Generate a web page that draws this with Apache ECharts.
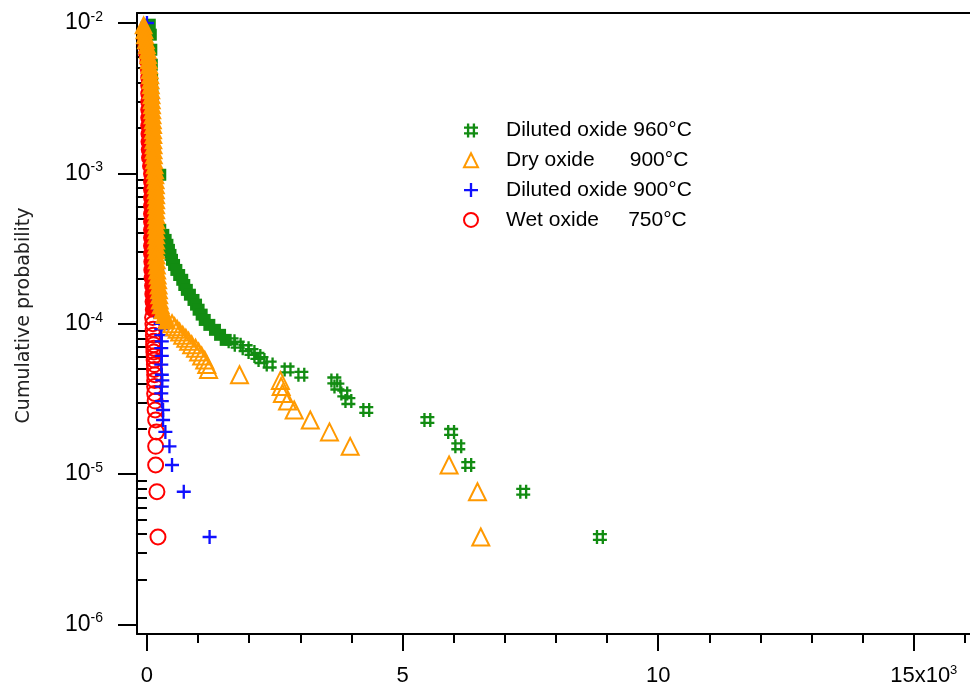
<!DOCTYPE html>
<html>
<head>
<meta charset="utf-8">
<script src="https://cdn.jsdelivr.net/npm/echarts@6/dist/echarts.min.js"></script>
<style>
html, body { margin: 0; padding: 0; background: #fff; }
#chart { width: 970px; height: 685px; }
</style>
</head>
<body>
<div id="chart"></div>
<script>
// Legend labels (spacing keeps the temperatures lined up)
const seriesNames = [
  'Diluted oxide 960°C',
  'Dry oxide      900°C',
  'Diluted oxide 900°C',
  'Wet oxide     750°C'
];

// Points are [value, cumulative probability].
// "Tail" = isolated extreme points, "Bulk" = the dense part near zero.
const diluted960Tail = [
  [8860, 3.82e-6], [7360, 7.64e-6], [6285, 1.15e-5], [6090, 1.53e-5], [5950, 1.91e-5],
  [5485, 2.29e-5], [4290, 2.67e-5], [3940, 3.06e-5], [3860, 3.44e-5], [3725, 3.82e-5],
  [3665, 4.2e-5], [3020, 4.58e-5], [2750, 4.97e-5], [2400, 5.35e-5], [2240, 5.73e-5],
  [2160, 6.11e-5], [2045, 6.49e-5], [1930, 6.88e-5], [1775, 7.26e-5], [1655, 7.64e-5]
];
const diluted960Bulk = [
  [55, 9.74e-3], [75, 8.36e-3], [85, 6.64e-3], [95, 5.28e-3], [100, 4.2e-3],
  [105, 3.33e-3], [110, 2.65e-3], [115, 2.11e-3], [120, 1.67e-3], [130, 1.33e-3],
  [135, 1.14e-3], [260, 9.79e-4], [140, 8.4e-4], [145, 6.67e-4], [150, 5.3e-4],
  [200, 4.55e-4], [260, 4.21e-4], [320, 3.9e-4], [365, 3.61e-4], [400, 3.35e-4],
  [430, 3.1e-4], [460, 2.87e-4], [490, 2.66e-4], [530, 2.46e-4], [575, 2.28e-4],
  [630, 2.11e-4], [690, 1.96e-4], [730, 1.81e-4], [780, 1.68e-4], [840, 1.56e-4],
  [910, 1.44e-4], [960, 1.34e-4], [1010, 1.24e-4], [1070, 1.15e-4], [1130, 1.06e-4],
  [1220, 9.83e-5], [1330, 9.11e-5], [1430, 8.44e-5], [1540, 7.81e-5]
];

const dry900Tail = [
  [6530, 3.82e-6], [6465, 7.64e-6], [5910, 1.15e-5], [3975, 1.53e-5], [3570, 1.91e-5],
  [3195, 2.29e-5], [2880, 2.67e-5], [2750, 3.06e-5], [2650, 3.44e-5], [2625, 3.82e-5],
  [2610, 4.2e-5], [1810, 4.58e-5], [1205, 4.97e-5], [1170, 5.35e-5], [1130, 5.73e-5],
  [1070, 6.11e-5], [1010, 6.49e-5], [950, 6.88e-5], [875, 7.26e-5], [815, 7.64e-5],
  [760, 8.02e-5], [700, 8.4e-5], [640, 8.8e-5], [590, 9.2e-5], [540, 9.55e-5], [490, 1.0e-4]
];
const dry900Bulk = [
  [-65, 9.74e-3], [-50, 9.02e-3], [-40, 8.36e-3], [-20, 7.74e-3], [0, 7.17e-3],
  [15, 6.64e-3], [25, 6.15e-3], [35, 5.7e-3], [45, 5.28e-3], [55, 4.89e-3],
  [65, 4.53e-3], [70, 4.2e-3], [75, 3.89e-3], [85, 3.6e-3], [90, 3.33e-3],
  [95, 3.09e-3], [100, 2.86e-3], [105, 2.65e-3], [110, 2.45e-3], [115, 2.27e-3],
  [120, 2.11e-3], [120, 1.95e-3], [125, 1.81e-3], [125, 1.67e-3], [130, 1.55e-3],
  [130, 1.435e-3], [135, 1.33e-3], [140, 1.23e-3], [150, 1.14e-3], [160, 1.057e-3],
  [165, 9.79e-4], [170, 9.06e-4], [175, 8.4e-4], [175, 7.78e-4], [180, 7.21e-4],
  [180, 6.67e-4], [180, 6.18e-4], [180, 5.73e-4], [180, 5.3e-4], [180, 4.91e-4],
  [180, 4.55e-4], [180, 4.21e-4], [180, 3.9e-4], [180, 3.61e-4], [180, 3.35e-4],
  [180, 3.1e-4], [185, 2.87e-4], [190, 2.66e-4], [195, 2.46e-4], [200, 2.28e-4],
  [210, 2.11e-4], [220, 1.96e-4], [228, 1.81e-4], [235, 1.68e-4], [240, 1.56e-4],
  [250, 1.44e-4], [270, 1.34e-4], [300, 1.24e-4], [340, 1.15e-4], [390, 1.06e-4]
];

const diluted900Points = [
  [0, 1.0e-2], [35, 5.7e-3], [95, 3.09e-3], [130, 1.435e-3], [180, 6.67e-4],
  [180, 3.61e-4], [200, 2.28e-4], [230, 1.44e-4], [250, 1.24e-4], [260, 1.1e-4],
  [270, 1.0e-4], [280, 9.2e-5], [280, 8.4e-5], [290, 7.64e-5], [280, 6.88e-5],
  [290, 6.11e-5], [280, 5.35e-5], [290, 4.58e-5], [300, 4.2e-5], [290, 3.82e-5],
  [280, 3.44e-5], [290, 3.06e-5], [315, 2.67e-5], [315, 2.29e-5], [360, 1.91e-5],
  [440, 1.53e-5], [490, 1.15e-5], [720, 7.64e-6], [1225, 3.82e-6]
];

const wet750Tail = [
  [110, 1.1e-4], [115, 1.0e-4], [120, 9.2e-5], [125, 8.4e-5], [130, 7.64e-5],
  [130, 7.26e-5], [135, 6.88e-5], [135, 6.49e-5], [140, 6.11e-5], [140, 5.73e-5],
  [145, 5.35e-5], [145, 4.97e-5], [150, 4.58e-5], [150, 4.2e-5], [150, 3.82e-5],
  [150, 3.44e-5], [160, 3.06e-5], [160, 2.67e-5], [170, 2.29e-5], [185, 1.91e-5],
  [170, 1.53e-5], [170, 1.15e-5], [195, 7.64e-6], [215, 3.82e-6]
];
const wet750Bulk = [
  [-50, 7.98e-3], [-40, 7.06e-3], [-25, 6.25e-3], [0, 5.53e-3], [10, 4.89e-3],
  [15, 4.33e-3], [15, 3.83e-3], [15, 3.39e-3], [15, 2.99e-3], [15, 2.65e-3],
  [15, 2.34e-3], [15, 2.07e-3], [20, 1.83e-3], [20, 1.62e-3], [25, 1.435e-3],
  [30, 1.27e-3], [50, 1.12e-3], [70, 9.94e-4], [70, 8.79e-4], [70, 7.78e-4],
  [70, 6.88e-4], [70, 6.09e-4], [70, 5.38e-4], [70, 4.76e-4], [70, 4.21e-4],
  [70, 3.73e-4], [70, 3.3e-4], [70, 2.92e-4], [75, 2.58e-4], [75, 2.28e-4],
  [80, 2.02e-4], [90, 1.79e-4], [95, 1.58e-4], [100, 1.4e-4], [105, 1.24e-4]
];

// Axis ticks
const xMajorTicks = [0, 5000, 10000, 15000];
const xMinorTicks = [1000, 2000, 3000, 4000, 6000, 7000, 8000, 9000,
                     11000, 12000, 13000, 14000, 16000];
const yDecadeExponents = [-6, -5, -4, -3, -2];

const X_MIN = -195, X_MAX = 16100;
const P_MIN = 8.65e-7, P_MAX = 1.165e-2;

const GREEN = '#128c12', ORANGE = '#ff9900', BLUE = '#1010ff', RED = '#ff0000';
const FONT = 'Liberation Sans, Arial, sans-serif';

const Y_MIN = Math.log10(P_MIN), Y_MAX = Math.log10(P_MAX);

// probability is plotted on a log10 scale
const toLog = pts => pts.map(([x, p]) => [x, Math.log10(p)]);

const yMinorTicks = [];
for (let n = -7; n <= -2; n++) {
  for (let k = 2; k <= 9; k++) {
    const v = n + Math.log10(k);
    if (v > Y_MIN + 0.03 && v < Y_MAX) yMinorTicks.push(v);
  }
}

const HASH = 'path://M2.5,0h2v12h-2zM7.5,0h2v12h-2zM0,2.5h12v2h-12zM0,7.5h12v2h-12z';
const PLUS = 'path://M5,0h2v12h-2zM0,5h12v2h-12z';

const solid = c => ({ color: c, opacity: 1 });
const hollow = c => ({ color: 'rgba(0,0,0,0)', borderColor: c, borderWidth: 2, opacity: 1 });

const axisLineStyle = { color: '#000', width: 2 };
const lastMajor = xMajorTicks[xMajorTicks.length - 1];

const chart = echarts.init(document.getElementById('chart'), null, { renderer: 'canvas' });
chart.setOption({
  animation: false,
  backgroundColor: '#fff',
  grid: { left: 137, right: 0, top: 13, bottom: 51, outerBoundsMode: 'none' },
  legend: {
    data: seriesNames,
    orient: 'vertical',
    left: 458,
    top: 115,
    padding: 5,
    itemWidth: 14,
    itemHeight: 14,
    itemGap: 8.8,
    selectedMode: false,
    formatter: name => '{g| }{n|' + name + '}',
    textStyle: {
      rich: {
        g: { width: 23 },
        n: { fontSize: 21, fontFamily: FONT, color: '#000', lineHeight: 22 }
      }
    }
  },
  xAxis: [
    {
      type: 'value', min: X_MIN, max: X_MAX, position: 'bottom',
      splitLine: { show: false },
      axisLine: { show: true, onZero: false, lineStyle: axisLineStyle },
      axisTick: { show: true, customValues: xMajorTicks, length: 17, lineStyle: axisLineStyle },
      axisLabel: {
        customValues: xMajorTicks,
        margin: 30,
        formatter: v => {
          const s = String(v / 1000);
          return v === lastMajor
            ? '{sp| }{b|' + s + 'x10}{s|3}'
            : '{b|' + s + '}';
        },
        rich: {
          sp: { width: 20 },
          b: { fontSize: 22, fontFamily: FONT, color: '#000', lineHeight: 24 },
          s: { fontSize: 13, fontFamily: FONT, color: '#000', verticalAlign: 'top', lineHeight: 13 }
        }
      }
    },
    {
      type: 'value', min: X_MIN, max: X_MAX, position: 'bottom',
      splitLine: { show: false },
      axisLine: { show: false },
      axisTick: { show: true, customValues: xMinorTicks, length: 9, lineStyle: axisLineStyle },
      axisLabel: { show: false }
    },
    {
      type: 'value', min: X_MIN, max: X_MAX, position: 'top',
      splitLine: { show: false },
      axisLine: { show: true, onZero: false, lineStyle: axisLineStyle },
      axisTick: { show: false },
      axisLabel: { show: false }
    }
  ],
  yAxis: [
    {
      type: 'value', min: Y_MIN, max: Y_MAX, position: 'left',
      name: 'Cumulative probability',
      nameLocation: 'middle',
      nameRotate: 90,
      nameGap: 103,
      nameTextStyle: {
        fontSize: 19, fontFamily: 'DejaVu Sans, sans-serif', color: '#222',
        padding: [0, 0, 0, 16]
      },
      splitLine: { show: false },
      axisLine: { show: true, onZero: false, lineStyle: axisLineStyle },
      axisTick: { show: true, customValues: yDecadeExponents, length: 19, lineStyle: axisLineStyle },
      axisLabel: {
        customValues: yDecadeExponents,
        margin: 34,
        formatter: v => '{b|10}{s|' + Math.round(v) + '}',
        rich: {
          b: { fontSize: 23, fontFamily: FONT, color: '#000', lineHeight: 26 },
          s: { fontSize: 14, fontFamily: FONT, color: '#000', verticalAlign: 'top', lineHeight: 14 }
        }
      }
    },
    {
      type: 'value', min: Y_MIN, max: Y_MAX, position: 'left',
      splitLine: { show: false },
      axisLine: { show: false },
      axisTick: { show: true, customValues: yMinorTicks, length: 11, lineStyle: axisLineStyle },
      axisLabel: { show: false }
    }
  ],
  series: [
    {
      type: 'scatter', name: seriesNames[0], z: 2,
      symbol: HASH, symbolSize: 14,
      itemStyle: solid(GREEN),
      data: toLog(diluted960Tail)
    },
    {
      type: 'scatter', name: seriesNames[1], z: 5,
      symbol: 'triangle', symbolSize: 17,
      itemStyle: hollow(ORANGE),
      data: toLog(dry900Tail)
    },
    {
      type: 'scatter', name: seriesNames[2], z: 4,
      symbol: PLUS, symbolSize: 14,
      itemStyle: solid(BLUE),
      data: toLog(diluted900Points)
    },
    {
      type: 'scatter', name: seriesNames[3], z: 3,
      symbol: 'circle', symbolSize: 15,
      itemStyle: hollow(RED),
      data: toLog(wet750Tail)
    },
    {
      type: 'scatter', name: seriesNames[0], z: 2,
      symbol: 'rect', symbolSize: 12,
      itemStyle: solid(GREEN),
      data: toLog(diluted960Bulk)
    },
    {
      type: 'scatter', name: seriesNames[1], z: 5,
      symbol: 'triangle', symbolSize: 19,
      itemStyle: solid(ORANGE),
      data: toLog(dry900Bulk)
    },
    {
      type: 'scatter', name: seriesNames[3], z: 3,
      symbol: 'circle', symbolSize: 15,
      itemStyle: solid(RED),
      data: toLog(wet750Bulk)
    }
  ]
});
</script>
</body>
</html>
